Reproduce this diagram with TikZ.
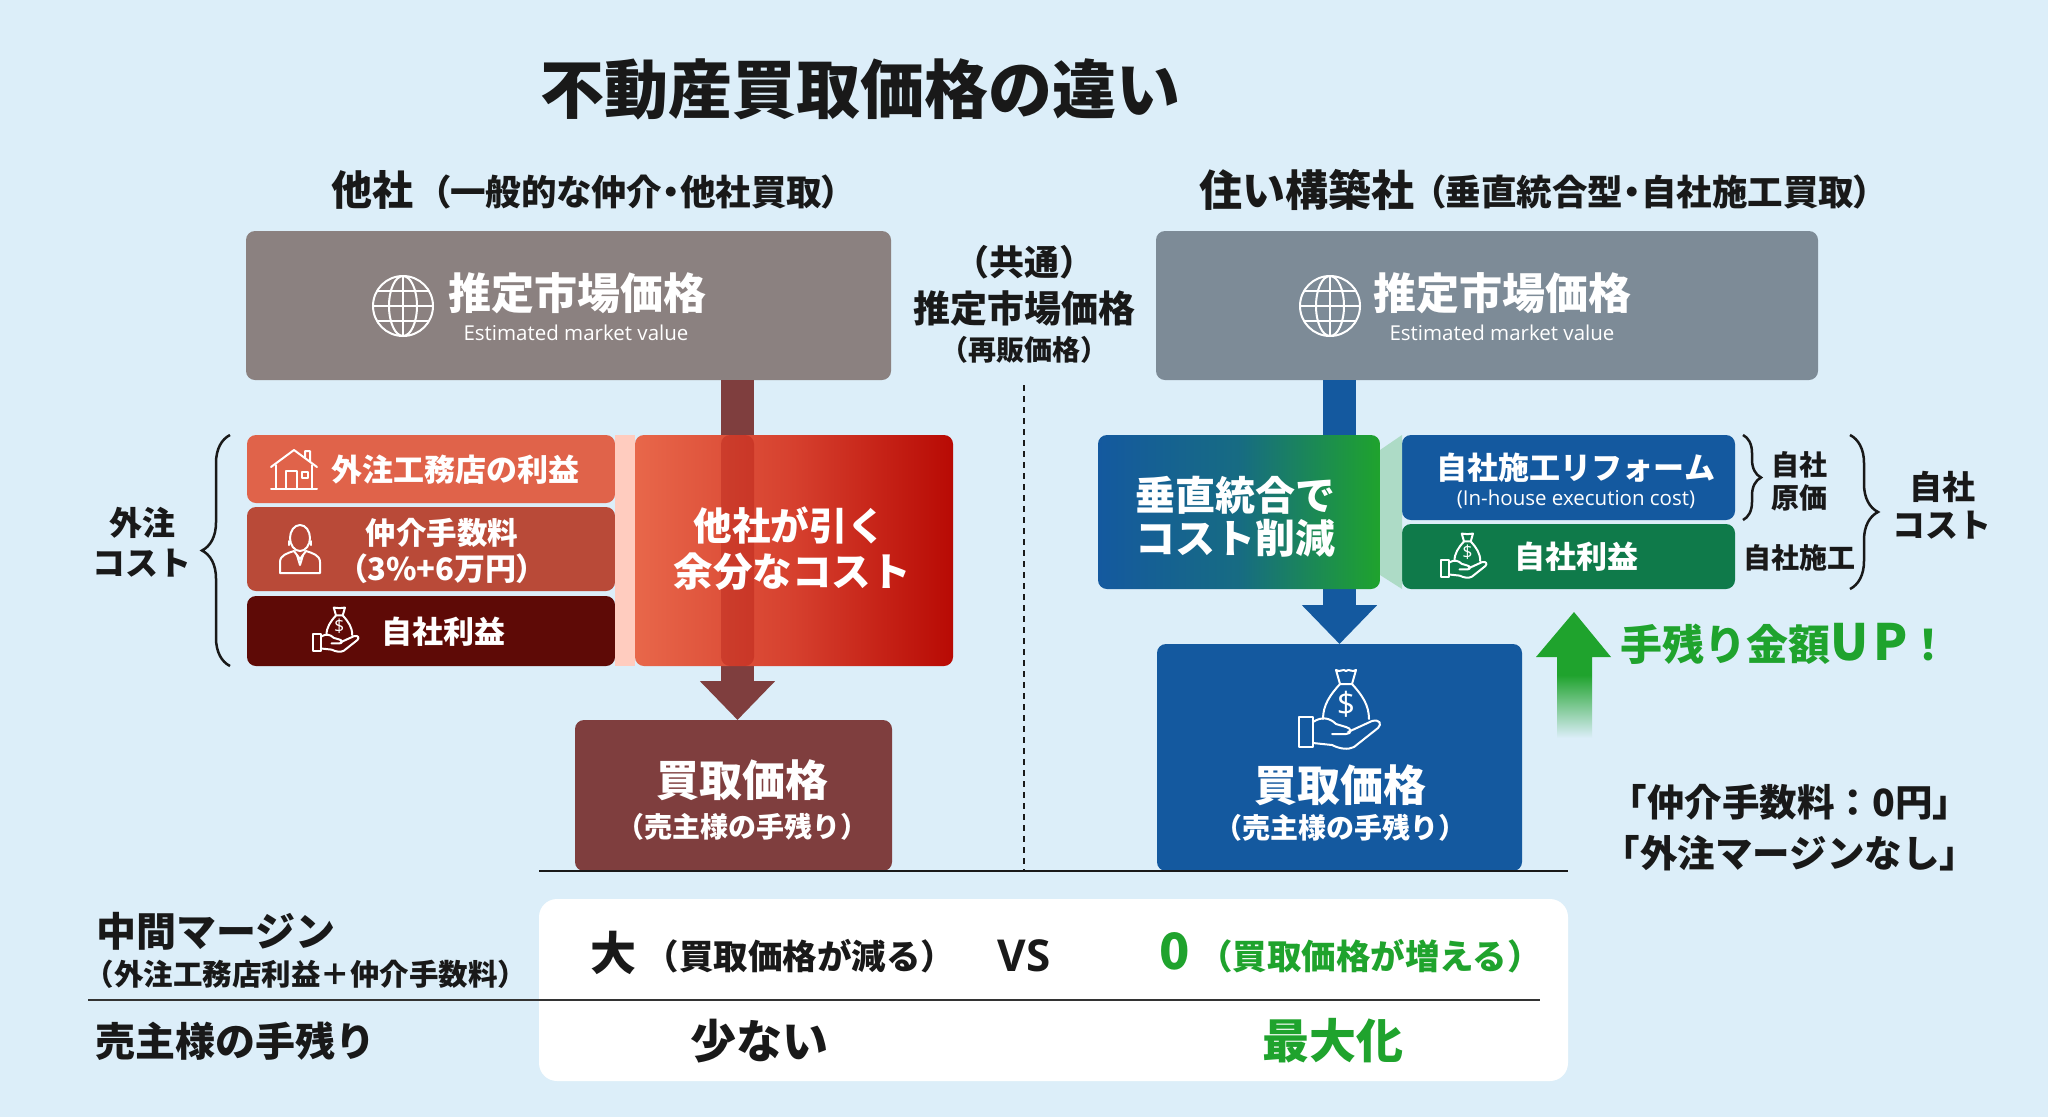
\documentclass[tikz,border=0pt]{standalone}
\usepackage{fontspec}
\setmainfont{Noto Sans CJK JP}
\newfontfamily\latinfont{Open Sans}
\newfontfamily\paltfont{Noto Sans CJK JP}[RawFeature=+palt]
\usetikzlibrary{arrows.meta}
\usetikzlibrary{decorations.pathreplacing}
\definecolor{pagebg}{HTML}{DCEEF9}
\definecolor{graywarm}{HTML}{8B8180}
\definecolor{graycool}{HTML}{7D8B97}
\definecolor{wine}{HTML}{7F3E3E}
\definecolor{navy}{HTML}{14599F}
\definecolor{leaf}{HTML}{1FA32D}
\definecolor{pine}{HTML}{0F7A4A}
\definecolor{coral}{HTML}{E0634A}
\definecolor{brick}{HTML}{B94A38}
\definecolor{maroon}{HTML}{5E0A06}
\definecolor{salmon}{HTML}{E8674A}
\definecolor{tomato}{HTML}{D6402E}
\definecolor{crimson}{HTML}{B80A04}
\newcommand{\fs}[1]{\fontsize{#1}{#1}\selectfont\bfseries}
\tikzset{
    box/.style = {rectangle, rounded corners=9pt, inner sep=0pt, outer sep=0pt},
    blk/.style = {inner sep=0pt, align=center, text=black!90},
    wht/.style = {inner sep=0pt, align=center, text=white},
    grn/.style = {inner sep=0pt, align=center, text=leaf},
    flow/.style = {line width=33pt, -{Triangle[length=39pt,width=73pt]}},
    curly/.style = {line width=2.5pt, black!90, decorate, decoration={brace,amplitude=#1,aspect=0.5}},
    icon/.style = {white, line width=2pt, line cap=round, line join=round},
    pics/globe/.style = {code={
      \draw[icon] (0,0) circle (30pt);
      \draw[icon] (0,0) ellipse (14pt and 30pt);
      \draw[icon] (0,-30) -- (0,30) (-30,0) -- (30,0) (-26,-15) -- (26,-15) (-26,15) -- (26,15);
    }},
    pics/moneyhand/.style = {code={
      \draw[icon] (0,-26) .. controls (-10,-15) and (-17,-5) .. (-17,9);
      \draw[icon] (12,-26) .. controls (22,-15) and (29,-5) .. (29,9);
      \draw[icon] (0,-26) -- (12,-26) -- (16,-40) .. controls (12,-37) and (9,-42) .. (6,-39)
        .. controls (3,-42) and (0,-37) .. (-4,-40) -- cycle;
      \draw[icon] (-41,7) rectangle (-27,37);
      \draw[icon] (-27,12) .. controls (-18,6) and (-10,8) .. (-4,14) -- (6,17)
        .. controls (12,18) and (12,24) .. (6,24) -- (-8,24);
      \draw[icon] (8,22) -- (32,11) .. controls (40,9) and (42,14) .. (38,18) -- (14,37)
        .. controls (8,40) and (0,39) .. (-8,35) -- (-27,33);
      \node (#1) at (6,-6) [wht,transform shape,font=\latinfont\fontsize{32}{32}\selectfont] {\$};
    }},
    pics/house/.style = {code={
      \draw[icon] (-23,-3) -- (0,-20) -- (23,-3) (11,-12) -- (11,-19) -- (16,-19) -- (16,-8);
      \draw[icon] (-18,-5) -- (-18,19) (18,-5) -- (18,19) (-23,19) -- (23,19);
      \draw[icon] (-8,19) -- (-8,1) -- (3,1) -- (3,19) (8,2) rectangle (14,8);
    }},
    pics/agent/.style = {code={
      \draw[icon] (0,-11) ellipse (10pt and 13pt);
      \draw[icon] (-11,-8) -- (-11,-4) (11,-8) -- (11,-4);
      \draw[icon] (-20,24) -- (-20,13) .. controls (-20,6) and (-12,4) .. (-6,2) -- (0,10) -- (6,2)
        .. controls (12,4) and (20,6) .. (20,13) -- (20,24) -- cycle;
      \draw[icon] (-3,6) -- (0,16) -- (3,6);
    }}
}
\begin{document}
\begin{tikzpicture}[x=1pt,y=-1pt]
  \path[use as bounding box,fill=pagebg] (0,0) rectangle (2048,1117);
  \coordinate (arrowL) at (737.5,380);
  \coordinate (baseL) at (539,871);
  \coordinate (baseR) at (1568,871);
  \coordinate (dashTop) at (1024,385);
  \coordinate (ruleL) at (88,1000);
  \coordinate (ruleR) at (1540,1000);

  % headings
  \node (title) at (860,89) [blk,font=\fs{64}] {不動産買取価格の違い};
  \node (headL) at (372,190) [blk,font=\fs{41}] {他社};
  \node (subL) at (636,192) [blk,font=\paltfont\fs{35.5}] {（一般的な仲介・他社買取）};
  \node (headR) at (1307,190) [blk,font=\fs{43}] {住い構築社};
  \node (subR) at (1650,192) [blk,font=\paltfont\fs{35.5}] {（垂直統合型・自社施工買取）};

  % top row
  \node (mktL) at (568.5,305.5) [box,fill=graywarm,minimum width=645pt,minimum height=149pt] {};
  \node (mktR) at (1487,305.5) [box,fill=graycool,minimum width=662pt,minimum height=149pt] {};
  \pic at (403,306) {globe};
  \pic at (1330,306) {globe};
  \node (mktLtxt) at (577,293) [wht,font=\fs{43}] {推定市場価格};
  \node (mktLen) at (576,333) [wht,font=\latinfont\fontsize{20.5}{20.5}\selectfont] {Estimated market value};
  \node (mktRtxt) at (1502,293) [wht,font=\fs{43}] {推定市場価格};
  \node (mktRen) at (1502,333) [wht,font=\latinfont\fontsize{20.5}{20.5}\selectfont] {Estimated market value};
  \node (midA) at (1024,262) [blk,font=\fs{35}] {（共通）};
  \node (midB) at (1024,308) [blk,font=\fs{37}] {推定市場価格};
  \node (midC) at (1024,350) [blk,font=\fs{28}] {（再販価格）};
  \draw[line width=1.5pt,black!90,dash pattern=on 6pt off 5pt] (dashTop) -- (dashTop |- baseL);

  % buy price boxes, arrows run behind the cost boxes
  \node (buyL) at (733.5,795.5) [box,fill=wine,minimum width=317pt,minimum height=151pt] {};
  \node (buyR) at (1339.5,757.5) [box,fill=navy,minimum width=365pt,minimum height=227pt] {};
  \draw[flow,wine] (mktL.south -| arrowL) -- (buyL.north -| arrowL);
  \draw[flow,navy] (mktR.south -| buyR.north) -- (buyR.north);

  % left costs
  \node (feeA) at (431,469) [box,fill=coral,minimum width=368pt,minimum height=68pt] {};
  \node (feeB) at (431,549) [box,fill=brick,minimum width=368pt,minimum height=84pt] {};
  \node (feeC) at (431,631) [box,fill=maroon,minimum width=368pt,minimum height=70pt] {};
  \node (extra) at (794,550.5) [box,left color=salmon,right color=crimson,middle color=tomato,
    minimum width=318pt,minimum height=231pt,
    path picture={\fill[red!60!black,opacity=.25] ([xshift=-16.5pt]arrowL |- path picture bounding box.north) rectangle ([xshift=16.5pt]arrowL |- path picture bounding box.south);}] {};
  \fill[red!60!orange!25!white] (feeA.north east) rectangle (extra.west |- feeC.south);
  \pic at (294,470) {house};
  \pic at (300,549) {agent};
  \pic[scale=.56] at (336,630) {moneyhand=signC};
  \node (feeAtxt) at (455,470) [wht,font=\fs{31}] {外注工務店の利益};
  \node (feeBtxt) at (442,533) [wht,font=\fs{30.5}] {仲介手数料};
  \node (feeBsub) at (442,569) [wht,font=\paltfont\fs{31}] {（3\%+6万円）};
  \node (feeCtxt) at (443,632) [wht,font=\fs{31}] {自社利益};
  \node (extraA) at (790,525) [wht,font=\fs{38.5}] {他社が引く};
  \node (extraB) at (792,572) [wht,font=\fs{39.5}] {余分なコスト};
  \node (outA) at (142,523) [blk,font=\fs{33}] {外注};
  \node (outB) at (142,563) [blk,font=\fs{33}] {コスト};
  \draw[curly=28pt] ([xshift=-17pt]feeC.south west) -- ([xshift=-17pt]feeA.north west);
  \node (buyLtxt) at (742,780) [wht,font=\fs{43}] {買取価格};
  \node (buyLsub) at (742,827) [wht,font=\fs{28}] {（売主様の手残り）};

  % right costs
  \node (merge) at (1239,512) [box,left color=navy,right color=leaf,middle color=navy!75!leaf,minimum width=282pt,minimum height=154pt] {};
  \node (ownA) at (1568.5,477.5) [box,fill=navy,minimum width=333pt,minimum height=85pt] {};
  \node (ownB) at (1568.5,556.5) [box,fill=pine,minimum width=333pt,minimum height=65pt] {};
  \fill[leaf!25!pagebg] ([yshift=-15pt]merge.north east) -- (ownA.north west) -- (ownB.south west) -- ([yshift=14pt]merge.south east) -- cycle;
  \pic[scale=.56] at (1464,556) {moneyhand=signB};
  \node (mergeA) at (1235,495) [wht,font=\fs{40}] {垂直統合で};
  \node (mergeB) at (1235,538) [wht,font=\fs{40}] {コスト削減};
  \node (ownAtxt) at (1576,468) [wht,font=\fs{31}] {自社施工リフォーム};
  \node (ownAen) at (1576,499) [wht,font=\latinfont\fontsize{20.5}{20.5}\selectfont] {(In-house execution cost)};
  \node (ownBtxt) at (1576,557) [wht,font=\fs{31}] {自社利益};
  \draw[curly=18pt] ([xshift=8pt]ownA.north east) -- ([xshift=8pt]ownA.south east);
  \draw[curly=28pt] ([xshift=115pt]ownA.north east) -- ([xshift=115pt]ownB.south east);
  \node (capA) at (1799,465) [blk,font=\fs{28}] {自社};
  \node (capB) at (1799,498) [blk,font=\fs{28}] {原価};
  \node (capC) at (1799,558) [blk,font=\fs{28}] {自社施工};
  \node (inA) at (1942,487) [blk,font=\fs{33}] {自社};
  \node (inB) at (1942,525) [blk,font=\fs{33}] {コスト};

  % result
  \pic at (1340,710) {moneyhand=signR};
  \node (buyRtxt) at (1340,785) [wht,font=\fs{43}] {買取価格};
  \node (buyRsub) at (1340,828) [wht,font=\fs{28}] {（売主様の手残り）};
  \path[top color=leaf,bottom color=pagebg,middle color=leaf]
    (1574,612) -- (1611,657) -- (1592,657) -- (1592,738) -- (1557,738) -- (1557,657) -- (1536,657) -- cycle;
  \node (gain) at (1785,644) [grn,font=\fs{42}] {手残り金額{\fs{50}U\hspace{5pt}P}！};
  \node (noteA) at (1790,802) [blk,font=\fs{37.5}] {「仲介手数料：0円」};
  \node (noteB) at (1790,853) [blk,font=\fs{37.5}] {「外注マージンなし」};
  \draw[line width=2pt,black!90] (baseL) -- (baseR);

  % comparison table
  \node (tbl) at (1053.5,990) [box,rounded corners=18pt,fill=white,minimum width=1029pt,minimum height=182pt] {};
  \draw[line width=1.5pt,black!80] (ruleL) -- (ruleR);
  \node (rowA) at (216,931) [blk,font=\fs{40}] {中間マージン};
  \node (rowAsub) at (306,974) [blk,font=\fs{29.5}] {（外注工務店利益＋仲介手数料）};
  \node (rowB) at (235,1041) [blk,font=\fs{40}] {売主様の手残り};
  \node (big) at (613,953) [blk,font=\fs{46}] {大};
  \node (bigsub) at (800,956) [blk,font=\fs{34.5}] {（買取価格が減る）};
  \node (vs) at (1024,956) [blk,font=\latinfont\fs{44}] {VS};
  \node (zero) at (1175,951) [grn,font=\fs{50}] {0};
  \node (zerosub) at (1370,956) [grn,font=\fs{34.5}] {（買取価格が増える）};
  \node (few) at (759,1041) [blk,font=\fs{46}] {少ない};
  \node (most) at (1333,1041) [grn,font=\fs{47}] {最大化};
\end{tikzpicture}
\end{document}
